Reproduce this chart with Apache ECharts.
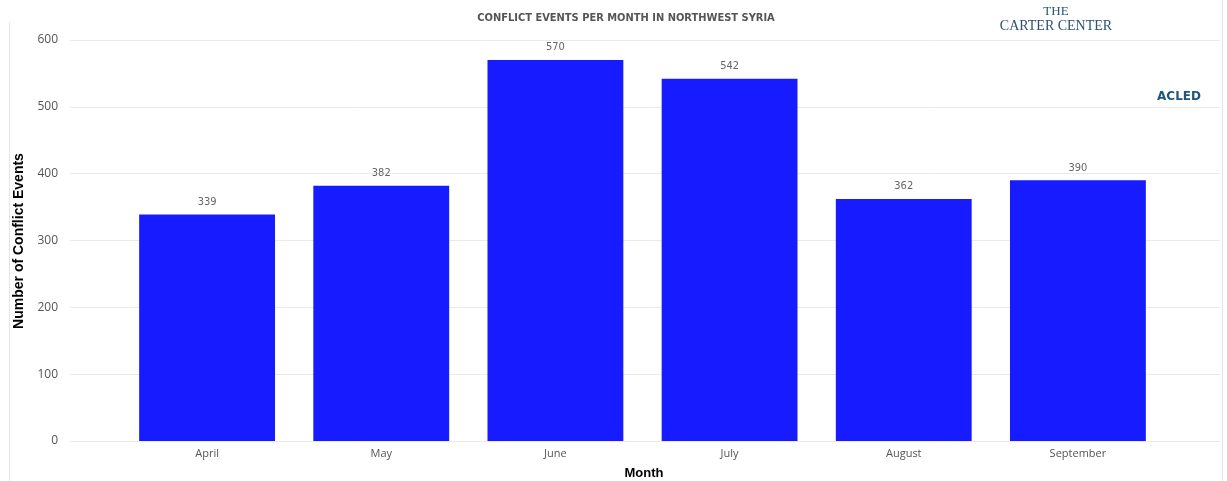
<!DOCTYPE html>
<html>
<head>
<meta charset="utf-8">
<script src="https://cdn.jsdelivr.net/npm/echarts@6/dist/echarts.min.js"></script>
<style>
  html, body { margin: 0; padding: 0; background: #fff; }
  #main { width: 1227px; height: 481px; }
</style>
</head>
<body>
<div id="main"></div>
<script>
// 数据
var months = ['April', 'May', 'June', 'July', 'August', 'September'];
var events = [339, 382, 570, 542, 362, 390];
var yTicks = [0, 100, 200, 300, 400, 500, 600];

var chart = echarts.init(document.getElementById('main'));

var option = {
  backgroundColor: '#fff',
  animation: false,
  title: {
    text: 'CONFLICT EVENTS PER MONTH IN NORTHWEST SYRIA',
    left: 621,
    top: 8,
    textAlign: 'center',
    textStyle: { fontFamily: 'DejaVu Sans Condensed', fontSize: 11, fontWeight: 'bold', color: '#555' }
  },
  // grid 0: 网格线 + y轴刻度 (宽), grid 1: 柱子
  grid: [
    { left: 70, right: 7, top: 40, bottom: 40 },
    { left: 120, right: 62, top: 40, bottom: 40 }
  ],
  xAxis: [
    { gridIndex: 0, type: 'value', show: false, min: 0, max: 1 },
    {
      gridIndex: 1, type: 'category', data: months,
      axisLine: { show: false }, axisTick: { show: false },
      axisLabel: { color: '#555', fontFamily: 'Open Sans', fontSize: 11, margin: 7 }
    }
  ],
  yAxis: [
    {
      gridIndex: 0, type: 'value', min: yTicks[0], max: yTicks[yTicks.length - 1], interval: 100,
      axisLine: { show: false }, axisTick: { show: false },
      axisLabel: { color: '#555', fontFamily: 'Open Sans', fontSize: 12, margin: 12 },
      splitLine: { lineStyle: { color: '#eaeaea', width: 1 } }
    },
    {
      gridIndex: 1, type: 'value', min: yTicks[0], max: yTicks[yTicks.length - 1], interval: 100,
      show: false, splitLine: { show: false }
    }
  ],
  series: [{
    type: 'bar',
    xAxisIndex: 1,
    yAxisIndex: 1,
    data: events,
    barCategoryGap: '22%',
    itemStyle: { color: '#161cff' },
    label: {
      show: true, position: 'top', distance: 7,
      color: '#666', fontFamily: 'DejaVu Sans Condensed', fontSize: 11
    }
  }],
  graphic: [
    { type: 'line', shape: { x1: 9.5, y1: 22, x2: 9.5, y2: 481 }, style: { stroke: '#e6e6e6', lineWidth: 1 } },
    { type: 'line', shape: { x1: 1222.5, y1: 0, x2: 1222.5, y2: 481 }, style: { stroke: '#e6e6e6', lineWidth: 1 } },
    {
      type: 'text', x: 19, y: 241, rotation: Math.PI / 2,
      style: { text: 'Number of Conflict Events', align: 'center', verticalAlign: 'middle',
        font: 'bold 14px "Liberation Sans", Arial', fill: '#000' }
    },
    {
      type: 'text', x: 644, y: 473,
      style: { text: 'Month', align: 'center', verticalAlign: 'middle', font: 'bold 13px "Liberation Sans", Arial', fill: '#000' }
    },
    {
      type: 'text', x: 1056, y: 12,
      style: { text: 'THE', align: 'center', verticalAlign: 'middle', font: '13px "Liberation Serif", serif', fill: '#2a5470' }
    },
    {
      type: 'text', x: 1056, y: 26,
      style: { text: 'CARTER CENTER', align: 'center', verticalAlign: 'middle', font: '14px "Liberation Serif", serif', fill: '#2a5470' }
    },
    {
      type: 'text', x: 1179, y: 97,
      style: { text: 'ACLED', align: 'center', verticalAlign: 'middle', font: 'bold 12px "DejaVu Sans", sans-serif', fill: '#1e5578' }
    }
  ]
};

chart.setOption(option);
</script>
</body>
</html>
